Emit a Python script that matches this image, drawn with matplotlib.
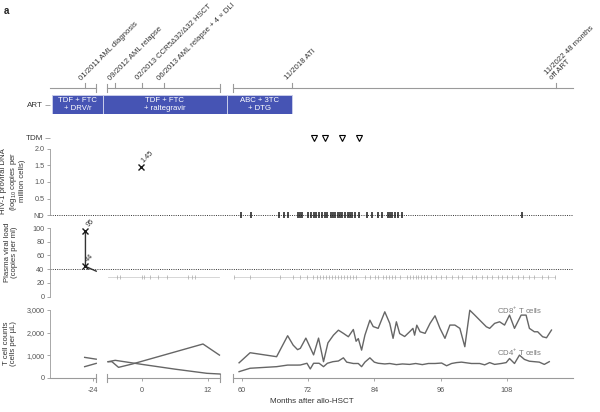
import matplotlib
matplotlib.use("Agg")
import matplotlib.pyplot as plt
import numpy as np

plt.rcParams['font.family'] = ['Liberation Sans', 'DejaVu Sans']
plt.rcParams['mathtext.fontset'] = 'custom'
plt.rcParams['mathtext.rm'] = 'Liberation Sans'

textColor = "#333333"
tickColor = "#555555"
axisColor = "#9a9a9a"
lineColor = "#666666"
artColor = "#4654b4"

# timeline events (months after allo-HSCT)
eventMonths = [-25, -5, 0, 4, 69, 117]
eventLabels = ["01/2011 AML diagnosis", "09/2012 AML relapse", "02/2013 CCR5Δ32/Δ32 HSCT",
               "06/2013 AML relapse + 4 × DLI", "11/2018 ATI", "11/2022 48 months\noff ART"]

# ART regimens
artStarts = [-29.3, -13.5, 38]
artEnds = [-13.5, 38, 69]
artLabels = ["TDF + FTC\n+ DRV/r", "TDF + FTC\n+ raltegravir", "ABC + 3TC\n+ DTG"]

# therapeutic drug monitoring
tdmMonths = [73.1, 75.1, 78.1, 81.2]

# HIV-1 proviral DNA
dnaMonths = [-0.2]
dnaValues = [1.45]
dnaNDMonths = [59.8, 61.7, 66.8, 67.7, 68.3, 70.2, 70.6, 70.9, 72, 72.5, 73, 73.5, 74, 74.5,
               75, 75.5, 76.2, 76.5, 76.9, 77.4, 77.8, 78.1, 78.7, 79.2, 79.6, 80, 80.5,
               81.2, 82.7, 83.6, 84.7, 85.4, 86.5, 86.8, 87.2, 87.7, 88.3, 89, 110.7]

# plasma viral load
vlMonths = [-25.0, -25.0]
vlValues = [95, 44]
vlBelowMonths = [-4.5, -4, 0, 0.4, 1.5, 2.9, 4.5, 8.4, 9.1, 9.6,
                 58.5, 61.5, 67, 69.3, 70.5, 71.8, 72.9, 73.6, 74.1, 74.7, 75.2, 75.8, 76.3,
                 76.8, 77.4, 77.9, 78.5, 79, 79.6, 80.1, 80.6, 82.3, 83.2, 84.1, 84.7, 85.6,
                 86.1, 86.7, 87.2, 87.7, 88.6, 89.9, 90.5, 91, 91.5, 92, 92.5, 93, 93.5, 94.3,
                 95.1, 96, 97, 98, 99.1, 99.8, 101.7, 102.5, 103.5, 104.5, 105.3, 106.4, 107.2,
                 108, 108.9, 110, 111, 112, 113, 114.3, 115.5, 116.7]

# T cell counts
cd8Months = [-25.1, -23.6,
             -6.2, -5.5, -4.3, -1.8, 11.1, 14.1,
             58.3, 59.5, 61.5, 66.3, 68.3, 69.3, 70.1, 70.6, 71.6, 73.0, 73.9, 74.8, 75.6,
             76.6, 77.5, 78.4, 79.3, 80.2, 80.7, 81.1, 81.7, 82.3, 83.2, 83.8, 84.7, 85.9,
             86.8, 87.4, 88.0, 88.6, 89.5, 90.4, 91.0, 91.3, 91.7, 92.3, 93.2, 94.1, 95.0,
             95.9, 96.8, 97.7, 98.6, 99.5, 100.4, 101.3, 102.2, 103.4, 104.3, 104.9, 105.8,
             106.7, 107.6, 108.5, 109.4, 110.6, 111.5, 112.1, 113.0, 113.6, 114.5, 115.2, 116.1]
cd8Counts = [910, 830,
             720, 720, 470, 617, 1500, 1010,
             790, 670, 1115, 940, 1865, 1450, 1250, 1310, 1760, 1020, 1760, 720, 1550,
             1890, 2110, 1970, 1820, 2140, 1620, 1740, 1230, 1890, 2550, 2270, 2190, 2920,
             2410, 1750, 2480, 1960, 1830, 2040, 2190, 1890, 2330, 2040, 1970, 2410, 2745,
             2190, 1750, 2335, 2335, 2190, 1380, 2990, 2775, 2480, 2260, 2190, 2410,
             2480, 2335, 2775, 2190, 2775, 2775, 2190, 2040, 2040, 1820, 1775, 2115]
cd4Months = [-25.1, -23.6,
             -6.2, -4.9, 0, 6, 11.8, 14.2,
             58.3, 59.5, 61.5, 66.3, 68.3, 70.1, 70.6, 71.8, 72.4, 73.0, 74.0, 74.8, 75.5,
             76.5, 77.5, 78.4, 79.0, 80.2, 81.1, 81.7, 82.3, 83.2, 84.0, 84.7, 85.9, 86.8,
             88.0, 89.1, 90.4, 91.5, 92.7, 93.8, 95.0, 96.2, 97.1, 98.0, 98.9, 99.8, 100.7,
             101.6, 103.1, 104.0, 104.9, 105.8, 107.0, 107.9, 108.5, 109.4, 110.3, 111.2,
             112.1, 113.0, 113.9, 114.8, 115.7]
cd4Counts = [500, 645,
             720, 780, 600, 390, 207, 176,
             320, 280, 430, 500, 570, 570, 573, 650, 400, 650, 650, 500, 650,
             720, 750, 890, 700, 640, 640, 500, 700, 890, 700, 650, 620, 640,
             590, 620, 600, 640, 590, 640, 640, 660, 540, 640, 680, 700, 670,
             640, 640, 580, 680, 600, 640, 680, 860, 640, 1010, 820,
             740, 720, 700, 600, 720]

xTicks = [-24, 0, 12, 60, 72, 84, 96, 108]

# broken month axis: month -> pixel column of the original layout
scaleMonths = [-29.6, -23.5, -6.4, 14.2, 58.4, 120]
scalePixels = [50, 97, 107, 220, 233, 573]
segments = [(-29.6, -23.6), (-6.4, 14.2), (58.4, 120)]

bm = np.array(scaleMonths, float)
bp = np.array(scalePixels, float)
s0 = (bp[1] - bp[0]) / (bm[1] - bm[0])
s1 = (bp[-1] - bp[-2]) / (bm[-1] - bm[-2])
bm = np.concatenate([[bm[0] - 1e4], bm, [bm[-1] + 1e4]])
bp = np.concatenate([[bp[0] - 1e4 * s0], bp, [bp[-1] + 1e4 * s1]])


def forward(m):
    return np.interp(m, bm, bp)


def inverse(p):
    return np.interp(p, bp, bm)


fig = plt.figure(figsize=(6, 4.12), dpi=100, facecolor="white")


def make_axes(top, bottom):
    ax = fig.add_axes([50 / 600, 1 - bottom / 412, 523 / 600, (bottom - top) / 412])
    ax.set_xscale('function', functions=(forward, inverse))
    ax.set_xlim(scaleMonths[0], scaleMonths[-1])
    for s in ['top', 'right', 'bottom']:
        ax.spines[s].set_visible(False)
    ax.spines['left'].set_color(axisColor)
    ax.spines['left'].set_linewidth(0.6)
    ax.set_xticks([])
    ax.patch.set_alpha(0)
    ax.tick_params(axis='y', length=2.5, width=0.6, color=axisColor, labelsize=5.2,
                   labelcolor=tickColor, pad=1.5)
    return ax


def broken_line(ax, heightPx, y=0):
    tr = ax.get_xaxis_transform()
    d = 4 / heightPx
    for k, (lo, hi) in enumerate(segments):
        ax.plot([lo, hi], [y, y], color=axisColor, lw=0.8, transform=tr, clip_on=False)
        if k > 0:
            ax.plot([lo, lo], [y - d, y + d], color=axisColor, lw=0.8, transform=tr, clip_on=False)
        if k < len(segments) - 1:
            ax.plot([hi, hi], [y - d, y + d], color=axisColor, lw=0.8, transform=tr, clip_on=False)


# top timeline
axTime = make_axes(20, 88)
axTime.spines['left'].set_visible(False)
axTime.set_yticks([])
axTime.set_ylim(0, 1)
broken_line(axTime, 68)
for m, lab in zip(eventMonths, eventLabels):
    axTime.plot([m, m], [0, 5 / 68], color=axisColor, lw=0.8, transform=axTime.get_xaxis_transform(), clip_on=False)
    axTime.annotate(lab, xy=(m, 0), xycoords=axTime.get_xaxis_transform(), xytext=(-2, 4.5),
                    textcoords='offset points', rotation=45, rotation_mode='anchor',
                    ha='left', va='bottom', fontsize=5.6, color=textColor, linespacing=1.1)

# ART
axArt = make_axes(95, 114)
axArt.spines['left'].set_visible(False)
axArt.set_ylim(0, 1)
axArt.set_yticks([0.5])
axArt.set_yticklabels(['ART'])
axArt.tick_params(axis='y', length=3.5, labelsize=5.8, labelcolor=textColor)
for a, b, lab in zip(artStarts, artEnds, artLabels):
    axArt.barh(0.5, b - a, left=a, height=1, color=artColor, edgecolor='#c9cdea', lw=0.7)
    axArt.text(inverse((forward(a) + forward(b)) / 2), 0.5, lab, ha='center', va='center',
               color='white', fontsize=5.6, linespacing=1.1)

# TDM
axTdm = make_axes(130, 146)
axTdm.spines['left'].set_visible(False)
axTdm.set_ylim(0, 1)
axTdm.set_yticks([0.5])
axTdm.set_yticklabels(['TDM'])
axTdm.tick_params(axis='y', length=3.5, labelsize=5.8, labelcolor=textColor)
axTdm.plot(tdmMonths, [0.5] * len(tdmMonths), ls='none', marker='v', ms=4.5, mfc='white',
           mec='black', mew=0.8)

# HIV-1 DNA
axDna = make_axes(146, 218)
axDna.set_ylim(-0.09, 2.09)
axDna.spines['left'].set_bounds(0, 2)
axDna.set_yticks([0, 0.5, 1.0, 1.5, 2.0])
axDna.set_yticklabels(['ND', '0.5', '1.0', '1.5', '2.0'])
axDna.axhline(0, color='#333333', ls=(0, (1, 1.3)), lw=0.7)
axDna.plot(dnaNDMonths, [0] * len(dnaNDMonths), ls='none', marker='|', ms=4.5, mew=1.1, color='#1a1a1a')
axDna.plot(dnaMonths, dnaValues, ls='none', marker='x', ms=4, mew=1, color='#1a1a1a')
for m, v in zip(dnaMonths, dnaValues):
    axDna.annotate(f"{v:.2f}", xy=(m, v), xytext=(3, 2), textcoords='offset points', rotation=45,
                   rotation_mode='anchor', ha='left', va='bottom', fontsize=5.2, color=textColor)

# plasma viral load
axVl = make_axes(222, 300)
axVl.set_ylim(-5.1, 108.8)
axVl.spines['left'].set_bounds(0, 100)
axVl.set_yticks([0, 20, 40, 60, 80, 100])
axVl.axhline(40, color='#333333', ls=(0, (1, 1.3)), lw=0.7)
axVl.plot(vlMonths + [-23.6], vlValues + [37], color='#333333', lw=1)
axVl.plot(vlMonths, vlValues, ls='none', marker='x', ms=4, mew=1, color='#1a1a1a')
for m, v in zip(vlMonths, vlValues):
    axVl.annotate(str(v), xy=(m, v), xytext=(3, 2), textcoords='offset points', rotation=45,
                  rotation_mode='anchor', ha='left', va='bottom', fontsize=5.2, color=textColor)
belowRanges = [(-6.2, 14.0), (58.5, 116.7)]
for lo, hi in belowRanges:
    axVl.plot([lo, hi], [28, 28], color='#d0d0d0', lw=0.6)
axVl.plot(vlBelowMonths, [28] * len(vlBelowMonths), ls='none', marker='|', ms=2.5, mew=0.5, color='#a8a8a8')

# T cells
axTc = make_axes(303, 378)
axTc.set_ylim(0, 3309)
axTc.spines['left'].set_bounds(0, 3000)
axTc.set_yticks([0, 1000, 2000, 3000])
axTc.set_yticklabels(['0', '1,000', '2,000', '3,000'])
broken_line(axTc, 75)
axTc.set_xticks(xTicks)
axTc.set_xticklabels([str(t) for t in xTicks])
axTc.tick_params(axis='x', length=2.5, width=0.6, color=axisColor, labelsize=5.2,
                 labelcolor=tickColor, pad=4)
for months, counts in [(cd8Months, cd8Counts), (cd4Months, cd4Counts)]:
    months = np.array(months)
    counts = np.array(counts)
    for lo, hi in segments:
        mask = (months >= lo) & (months <= hi)
        axTc.plot(months[mask], counts[mask], color=lineColor, lw=1.0, clip_on=False)
axTc.text(110.3, 3040, "CD8$^{+}$ T cells", ha='center', va='center', fontsize=5.6, color='#7a7a7a')
axTc.text(110.3, 1150, "CD4$^{+}$ T cells", ha='center', va='center', fontsize=5.6, color='#7a7a7a')
axTc.set_xlabel("Months after allo-HSCT", fontsize=5.8, color=textColor, labelpad=3)

# y labels and panel letter
fig.text(13 / 600, 1 - 181 / 412, "HIV-1 proviral DNA\n(log$_{10}$ copies per\nmillion cells)",
         rotation=90, ha='center', va='center', fontsize=5.6, color=textColor, linespacing=1.1)
fig.text(11 / 600, 1 - 252 / 412, "Plasma viral load\n(copies per ml)",
         rotation=90, ha='center', va='center', fontsize=5.6, color=textColor, linespacing=1.1)
fig.text(10 / 600, 1 - 343 / 412, "T cell counts\n(cells per µL)",
         rotation=90, ha='center', va='center', fontsize=5.6, color=textColor, linespacing=1.1)
fig.text(4 / 600, 1 - 11 / 412, "a", fontsize=7, fontweight='bold', ha='left', va='center', color='#222222')

fig.savefig("out.png", dpi=100, facecolor="white")
